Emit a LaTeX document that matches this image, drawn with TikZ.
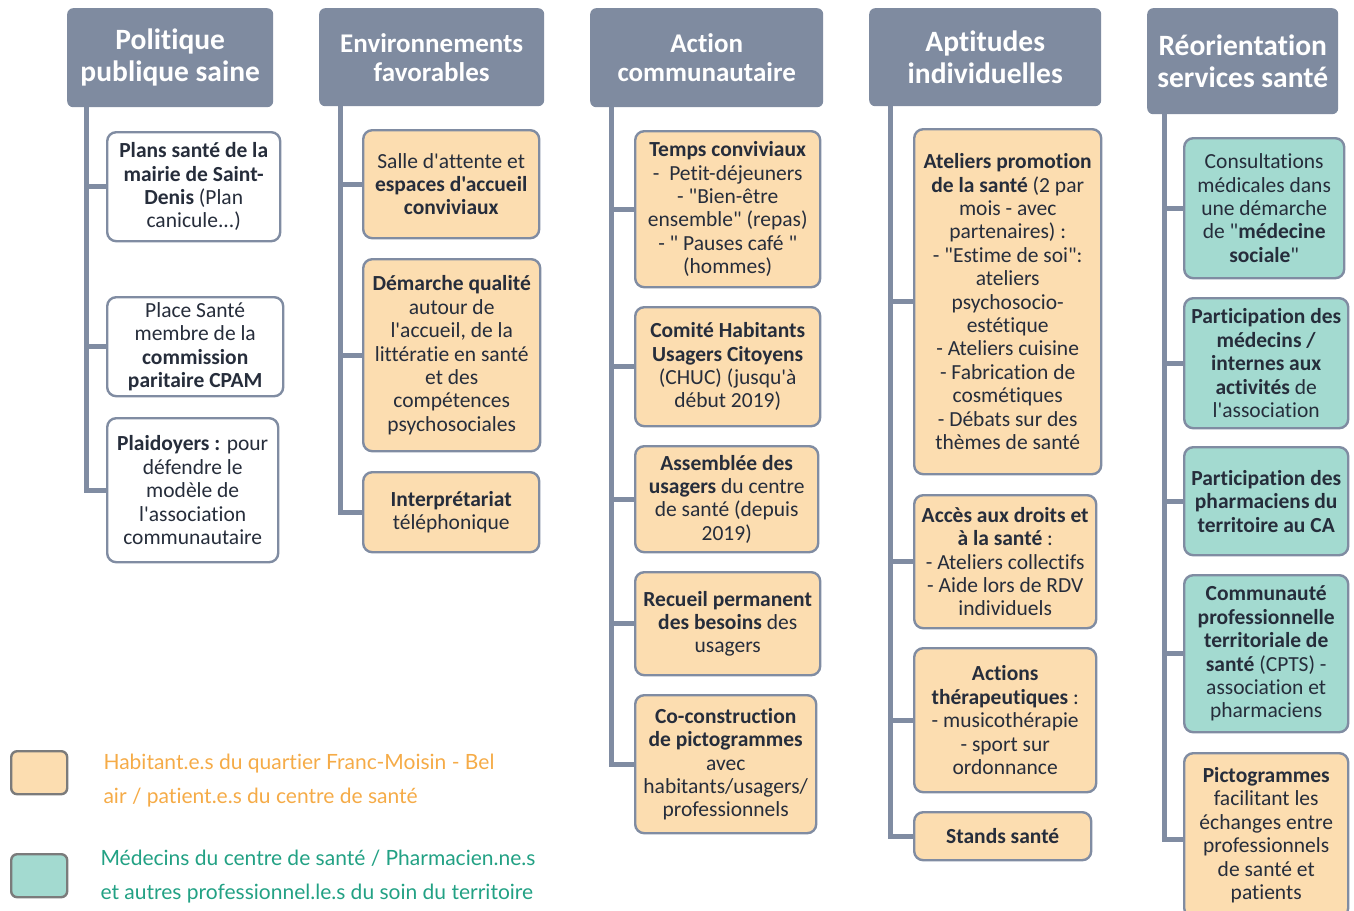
\documentclass[tikz,border=0pt]{standalone}
\usepackage{fontspec}
\setmainfont{Carlito}[Ligatures={TeXOff,NoCommon}]
\newfontfamily\legfont{Lato}[Ligatures={TeXOff,NoCommon}]
\usetikzlibrary{positioning,calc}
\definecolor{hdrC}     {HTML}{7F8BA0}
\definecolor{lineC}    {HTML}{808CA2}
\definecolor{textC}    {HTML}{262D3B}
\definecolor{orangeF}  {HTML}{FCDDB0}
\definecolor{tealF}    {HTML}{A3DAD0}
\definecolor{legOrange}{HTML}{F5AB47}
\definecolor{legTeal}  {HTML}{22A184}
\definecolor{legBorder}{HTML}{7B7B7B}
\tikzset{
  hdr/.style={fill=hdrC,rounded corners=6pt,text=white,align=center,inner sep=2pt,
    font=\fontsize{29.5}{32}\selectfont\bfseries,anchor=north west},
  hdrSmall/.style={hdr,font=\fontsize{27}{29}\selectfont\bfseries},
  itemBox/.style={draw=lineC,line width=2.4pt,rounded corners=9pt,align=center,
    inner sep=2pt,text=textC,font=\fontsize{21.5}{23.4}\selectfont,anchor=north west},
  whiteBox/.style={itemBox,fill=white},
  habBox/.style={itemBox,fill=orangeF},
  proBox/.style={itemBox,fill=tealF},
  trunk/.style={draw=lineC,line width=5pt},
  legSwatch/.style={draw=legBorder,line width=2.4pt,rounded corners=6pt,
    minimum width=56pt,minimum height=43pt,anchor=north west},
  legText/.style={align=left,anchor=west,font=\legfont\fontsize{21}{34}\selectfont},
}
\begin{document}
\begin{tikzpicture}[x=1pt,y=-1pt]
\useasboundingbox (0,0) rectangle (1354,910);
% headers
\node[hdr,minimum width=206pt,minimum height=99pt] (pps) at (67,8) {Politique\\publique saine};
\node[hdrSmall,minimum width=225pt,minimum height=98pt] (env) at (319,8) {Environnements\\favorables};
\node[hdrSmall,minimum width=233pt,minimum height=99pt] (act) at (590,8) {Action\\communautaire};
\node[hdr,minimum width=232pt,minimum height=98pt] (apt) at (869,8) {Aptitudes\\individuelles};
\node[hdr,minimum width=191pt,minimum height=106pt] (reo) at (1147,8) {R\'eorientation\\services sant\'e};
% column 1
\node[whiteBox,minimum width=173pt,minimum height=109pt] (pps1) at (106,131) {%
  \textbf{Plans santé de la}\\\textbf{mairie de Saint-}\\\textbf{Denis} (Plan\\canicule...)};
\node[whiteBox,minimum width=176pt,minimum height=99pt] (pps2) at (106,296) {%
  Place Santé\\membre de la\\\textbf{commission}\\\textbf{paritaire CPAM}};
\node[whiteBox,minimum width=171pt,minimum height=144pt] (pps3) at (106,417) {%
  \textbf{Plaidoyers :} pour\\défendre le\\modèle de\\l'association\\communautaire};
% column 2
\node[habBox,minimum width=176pt,minimum height=108pt] (env1) at (362,129) {%
  Salle d'attente et\\\textbf{espaces d'accueil}\\\textbf{conviviaux}};
\node[habBox,minimum width=177pt,minimum height=192pt] (env2) at (362,258) {%
  \textbf{Démarche qualité}\\autour de\\l'accueil, de la\\littératie en santé\\et des\\compétences\\psychosociales};
\node[habBox,minimum width=176pt,minimum height=80pt] (env3) at (362,471) {%
  \textbf{Interprétariat}\\téléphonique};
% column 3
\node[habBox,minimum width=185pt,minimum height=156pt] (act1) at (634,130) {%
  \textbf{Temps conviviaux}\\-~~Petit-déjeuners\\- "Bien-être\\ensemble" (repas)\\- " Pauses café "\\(hommes)};
\node[habBox,minimum width=185pt,minimum height=119pt] (act2) at (634,306) {%
  \textbf{Comité Habitants}\\\textbf{Usagers Citoyens}\\(CHUC) (jusqu'à\\début 2019)};
\node[habBox,minimum width=183pt,minimum height=106pt] (act3) at (634,445) {%
  \textbf{Assemblée des}\\\textbf{usagers} du centre\\de santé (depuis\\2019)};
\node[habBox,minimum width=185pt,minimum height=103pt] (act4) at (634,571) {%
  \textbf{Recueil permanent}\\\textbf{des besoins} des\\usagers};
\node[habBox,minimum width=181pt,minimum height=138pt] (act5) at (634,694) {%
  \textbf{Co-construction}\\\textbf{de pictogrammes}\\avec\\habitants/usagers/\\professionnels};
% column 4
\node[habBox,minimum width=187pt,minimum height=345pt] (apt1) at (913,128) {%
  \textbf{Ateliers promotion}\\\textbf{de la santé} (2 par\\mois - avec\\partenaires) :\\- "Estime de soi":\\ateliers\\psychosocio-\\estétique\\- Ateliers cuisine\\- Fabrication de\\cosmétiques\\- Débats sur des\\thèmes de santé};
\node[habBox,minimum width=182pt,minimum height=133pt] (apt2) at (913,494) {%
  \textbf{Accès aux droits et}\\\textbf{à la santé} :\\- Ateliers collectifs\\- Aide lors de RDV\\individuels};
\node[habBox,minimum width=182pt,minimum height=144pt] (apt3) at (913,647) {%
  \textbf{Actions}\\\textbf{thérapeutiques} :\\- musicothérapie\\- sport sur\\ordonnance};
\node[habBox,minimum width=177pt,minimum height=48pt] (apt4) at (913,811) {%
  \textbf{Stands santé}};
% column 5
\node[proBox,minimum width=160pt,minimum height=140pt] (reo1) at (1183,137) {%
  Consultations\\médicales dans\\une démarche\\de "\textbf{médecine}\\\textbf{sociale}"};
\node[proBox,minimum width=164pt,minimum height=130pt] (reo2) at (1183,297) {%
  \textbf{Participation des}\\\textbf{médecins /}\\\textbf{internes aux}\\\textbf{activités} de\\l'association};
\node[proBox,minimum width=164pt,minimum height=108pt] (reo3) at (1183,446) {%
  \textbf{Participation des}\\\textbf{pharmaciens du}\\\textbf{territoire au CA}};
\node[proBox,minimum width=164pt,minimum height=157pt] (reo4) at (1183,574) {%
  \textbf{Communauté}\\\textbf{professionnelle}\\\textbf{territoriale de}\\\textbf{santé} (CPTS) -\\association et\\pharmaciens};
\node[habBox,minimum width=164pt,minimum height=164pt] (reo5) at (1183,752) {%
  \textbf{Pictogrammes}\\facilitant les\\échanges entre\\professionnels\\de santé et\\patients};
% trunks and branches
\coordinate (tp) at ([xshift=19pt]pps.south west);
\coordinate (te) at ([xshift=21pt]env.south west);
\coordinate (ta) at ([xshift=21pt]act.south west);
\coordinate (tt) at ([xshift=21pt]apt.south west);
\coordinate (tr) at ([xshift=17pt]reo.south west);
\draw[trunk] (tp) |- (pps3.west);
\draw[trunk] (te) |- (env3.west);
\draw[trunk] (ta) |- (act5.west);
\draw[trunk] (tt) |- (apt4.west);
\draw[trunk] (tr) |- ([yshift=-4pt]reo5.west);
\foreach \b in {pps1,pps2} \draw[trunk] (tp |- \b.west) -- (\b.west);
\foreach \b in {env1,env2} \draw[trunk] (te |- \b.west) -- (\b.west);
\foreach \b in {act1,act2,act3,act4} \draw[trunk] (ta |- \b.west) -- (\b.west);
\foreach \b in {apt1,apt2,apt3} \draw[trunk] (tt |- \b.west) -- (\b.west);
\foreach \b in {reo1,reo2,reo3,reo4} \draw[trunk] (tr |- \b.west) -- (\b.west);
% legend
\node[legSwatch,fill=orangeF] (legHab) at (10,750) {};
\node[legSwatch,fill=tealF] (legPro) at (10,853) {};
\node[legText,text=legOrange] (legHabTxt) at (100,781) {Habitant.e.s du quartier Franc-Moisin - Bel\\air / patient.e.s du centre de santé};
\node[legText,text=legTeal] (legProTxt) at (97,877) {Médecins du centre de santé / Pharmacien.ne.s\\et autres professionnel.le.s du soin du territoire};
\end{tikzpicture}
\end{document}
